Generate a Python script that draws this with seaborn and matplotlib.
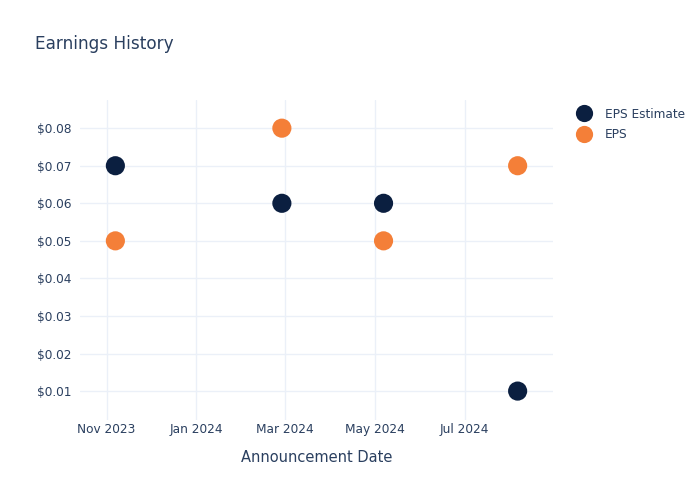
import matplotlib
matplotlib.use("Agg")
import matplotlib.pyplot as plt
import matplotlib.ticker as mticker
import seaborn as sns
import pandas as pd

dates = ["2023-11-07", "2024-02-28", "2024-05-07", "2024-08-06"]
eps_estimate = [0.07, 0.06, 0.06, 0.01]
eps_actual = [0.05, 0.08, 0.05, 0.07]
series_names = ["EPS Estimate", "EPS"]
colors = ["#0b1f40", "#f47f38"]
y_ticks = [0.01, 0.02, 0.03, 0.04, 0.05, 0.06, 0.07, 0.08]
x_ticks = ["2023-11-01", "2024-01-01", "2024-03-01", "2024-05-01", "2024-07-01"]
x_tick_labels = ["Nov 2023", "Jan 2024", "Mar 2024", "May 2024", "Jul 2024"]

df = pd.DataFrame({
    "date": pd.to_datetime(dates * 2),
    "value": eps_estimate + eps_actual,
    "series": [series_names[0]] * len(dates) + [series_names[1]] * len(dates),
})

sns.set_theme(style="white")
plt.rcParams["font.family"] = ["DejaVu Sans"]
text_color = "#2a3f5f"
grid_color = "#ebf0f8"

fig = plt.figure(figsize=(7, 5), dpi=100)
ax = fig.add_axes([80 / 700, 80 / 500, (553 - 80) / 700, (420 - 100) / 500])

sns.scatterplot(data=df, x="date", y="value", hue="series",
                palette=dict(zip(series_names, colors)), s=190,
                edgecolor="none", ax=ax, zorder=3, legend=True)

ax.set_xlim(pd.Timestamp("2023-10-14"), pd.Timestamp("2024-08-30"))
ax.set_ylim(0.0023, 0.0875)
ax.set_yticks(y_ticks)
ax.yaxis.set_major_formatter(mticker.FuncFormatter(lambda v, p: f"${v:.2f}"))
ax.set_xticks(pd.to_datetime(x_ticks))
ax.set_xticklabels(x_tick_labels)

ax.grid(True, color=grid_color, linewidth=1)
ax.set_axisbelow(True)
for sp in ax.spines.values():
    sp.set_visible(False)
ax.tick_params(axis="both", length=0, colors=text_color, labelsize=8.7, pad=6)
ax.tick_params(axis="x", pad=2)

ax.set_xlabel("Announcement Date", color=text_color, fontsize=10.5, labelpad=10)
ax.set_ylabel("")

fig.text(35 / 700, 1 - 44 / 500, "Earnings History", color=text_color,
         fontsize=12.2, va="center", ha="left")

handles, labels = ax.get_legend_handles_labels()
leg = ax.legend(handles, labels, loc="upper left", bbox_to_anchor=(1.017, 1.01),
                frameon=False, fontsize=8.7, handletextpad=0.7, labelspacing=0.6,
                markerscale=0.9)
for t in leg.get_texts():
    t.set_color(text_color)

fig.savefig("out.png", dpi=100)
